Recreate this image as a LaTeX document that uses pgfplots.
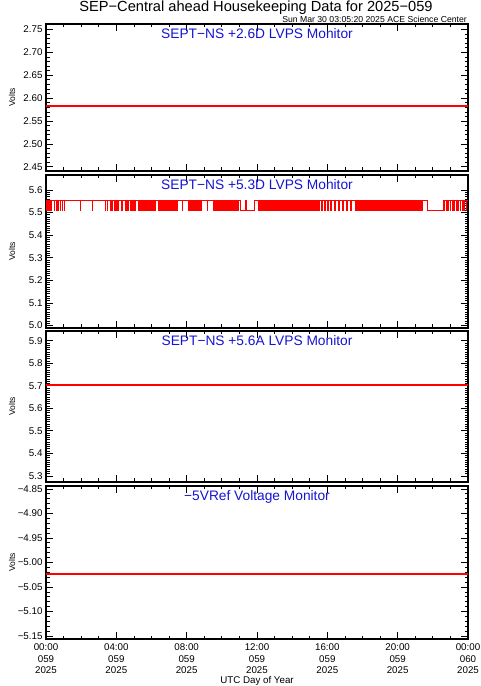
\documentclass[border=0pt]{standalone}
\usepackage{pgfplots}
\pgfplotsset{compat=1.18}
\usepackage{fontspec}
\setmainfont{Liberation Sans}
\definecolor{ttl}{RGB}{20,20,210}
\tikzset{
 ptitle/.style={text=ttl, font=\fontsize{13.8}{14}\selectfont, anchor=north},
}
\pgfplotsset{
 panel/.style={
  scale only axis, width=422bp,
  xmin=0, xmax=24, xtick={0,4,...,24}, minor x tick num=3,
  xticklabels={},
  tick align=inside, tick pos=both,
  axis line style={line width=1.3bp},
  every tick/.style={black, line width=0.8bp},
  major tick length=7bp, minor tick length=3.5bp,
  yticklabel style={font=\fontsize{9.8}{10}\selectfont},
  ylabel={Volts},
  every axis y label/.style={at={(axis description cs:0,0.5)}, xshift=-34bp, rotate=90, anchor=center, font=\fontsize{8.5}{9}\selectfont},
  anchor=north west,
 },
 overlay/.style={scale only axis, width=422bp, xmin=0, xmax=24, hide axis, anchor=north west},
}
\begin{document}
\begin{tikzpicture}
\useasboundingbox (0,0) rectangle (481bp,686bp);
\node[font=\fontsize{14.7}{15}\selectfont, anchor=base, inner sep=0pt] at (256bp,674bp) {SEP−Central ahead Housekeeping Data for 2025−059};
\node[font=\fontsize{8.7}{9}\selectfont, anchor=base east, inner sep=0pt] at (467bp,663.5bp) {Sun Mar 30 03:05:20 2025 ACE Science Center};

% Panel 1
\begin{axis}[panel, at={(46bp,662bp)}, height=147bp,
  ymin=2.441, ymax=2.762,
  ytick={2.45,2.50,2.55,2.60,2.65,2.70,2.75}, minor y tick num=4,
  yticklabels={2.45,2.50,2.55,2.60,2.65,2.70,2.75}]
\addplot[red, line width=1.5bp] coordinates {(0,2.583)(24,2.583)};
\end{axis}

% Panel 2
\begin{axis}[panel, at={(46bp,511bp)}, height=153bp,
  ymin=4.989, ymax=5.666,
  ytick={5.0,5.1,5.2,5.3,5.4,5.5,5.6}, minor y tick num=9,
  yticklabels={5.0,5.1,5.2,5.3,5.4,5.5,5.6}]
\addplot[red, const plot, line width=1bp] coordinates {
(0,5.555)
(0.03,5.51)(0.08,5.555)(0.11,5.51)(0.16,5.555)(0.20,5.51)(0.25,5.555)(0.29,5.51)(0.34,5.555)
(0.46,5.51)(0.50,5.555)(0.57,5.51)(0.61,5.555)(0.68,5.51)(0.72,5.555)(0.80,5.51)(0.84,5.555)(0.91,5.51)(0.95,5.555)(1.03,5.51)(1.07,5.555)
(1.94,5.51)(1.97,5.555)(2.62,5.51)(2.65,5.555)(3.36,5.51)(3.39,5.555)(3.48,5.51)(3.51,5.555)
(3.65,5.51)(3.70,5.555)(3.76,5.51)(3.81,5.555)(3.88,5.51)(3.93,5.555)(3.99,5.51)(4.04,5.555)(4.10,5.51)(4.15,5.555)(4.28,5.51)(4.33,5.555)
(4.50,5.51)(4.55,5.555)(4.62,5.51)(4.67,5.555)(4.79,5.51)(4.84,5.555)(4.90,5.51)(4.95,5.555)(5.02,5.51)(5.07,5.555)(5.24,5.51)(5.29,5.555)
(5.36,5.51)(5.41,5.555)(5.47,5.51)(5.52,5.555)(5.59,5.51)(5.64,5.555)(5.70,5.51)(5.75,5.555)(5.82,5.51)(5.87,5.555)
(5.93,5.51)(5.98,5.555)(6.04,5.51)(6.09,5.555)(6.16,5.51)(6.21,5.555)(6.39,5.51)(6.44,5.555)(6.50,5.51)(6.55,5.555)(6.61,5.51)(6.66,5.555)
(6.73,5.51)(6.78,5.555)(6.84,5.51)(6.89,5.555)(6.96,5.51)(7.01,5.555)(7.07,5.51)(7.12,5.555)(7.18,5.51)(7.23,5.555)(7.30,5.51)(7.35,5.555)(7.41,5.51)(7.46,5.555)
(7.75,5.51)(7.78,5.555)
(8.10,5.51)(8.15,5.555)(8.21,5.51)(8.26,5.555)(8.32,5.51)(8.37,5.555)(8.44,5.51)(8.49,5.555)(8.55,5.51)(8.60,5.555)(8.67,5.51)(8.72,5.555)(8.78,5.51)(8.83,5.555)
(9.18,5.51)(9.21,5.555)
(9.52,5.51)(9.57,5.555)(9.63,5.51)(9.68,5.555)(9.75,5.51)(9.80,5.555)(9.86,5.51)(9.91,5.555)(9.98,5.51)(10.03,5.555)(10.09,5.51)(10.14,5.555)
(10.20,5.51)(10.25,5.555)(10.32,5.51)(10.37,5.555)(10.43,5.51)(10.48,5.555)(10.55,5.51)(10.60,5.555)(10.66,5.51)(10.71,5.555)(10.78,5.51)(10.83,5.555)(10.89,5.51)(10.94,5.555)
(11.06,5.51)(11.37,5.555)(11.43,5.51)(11.83,5.555)
(12.09,5.51)(12.14,5.555)(12.20,5.51)(12.25,5.555)(12.31,5.51)(12.36,5.555)(12.43,5.51)(12.48,5.555)(12.54,5.51)(12.59,5.555)(12.66,5.51)(12.71,5.555)
(12.77,5.51)(12.82,5.555)(12.88,5.51)(12.93,5.555)(13.00,5.51)(13.05,5.555)(13.11,5.51)(13.16,5.555)(13.23,5.51)(13.28,5.555)(13.34,5.51)(13.39,5.555)(13.45,5.51)(13.50,5.555)
(13.57,5.51)(13.62,5.555)(13.68,5.51)(13.73,5.555)(13.80,5.51)(13.85,5.555)(13.91,5.51)(13.96,5.555)(14.02,5.51)(14.07,5.555)(14.14,5.51)(14.19,5.555)
(14.25,5.51)(14.30,5.555)(14.37,5.51)(14.42,5.555)(14.48,5.51)(14.53,5.555)(14.59,5.51)(14.64,5.555)(14.71,5.51)(14.76,5.555)(14.82,5.51)(14.87,5.555)
(14.94,5.51)(14.99,5.555)(15.05,5.51)(15.10,5.555)(15.16,5.51)(15.21,5.555)(15.28,5.51)(15.33,5.555)(15.39,5.51)(15.44,5.555)
(15.51,5.51)(15.55,5.555)(15.68,5.51)(15.72,5.555)(15.85,5.51)(15.89,5.555)(16.02,5.51)(16.06,5.555)(16.19,5.51)(16.23,5.555)(16.42,5.51)(16.46,5.555)
(16.65,5.51)(16.69,5.555)(16.87,5.51)(16.91,5.555)(17.10,5.51)(17.14,5.555)(17.33,5.51)(17.37,5.555)(17.62,5.51)(17.65,5.555)
(17.73,5.51)(17.78,5.555)(17.84,5.51)(17.89,5.555)(17.96,5.51)(18.01,5.555)(18.07,5.51)(18.12,5.555)(18.19,5.51)(18.24,5.555)(18.30,5.51)(18.35,5.555)
(18.41,5.51)(18.46,5.555)(18.53,5.51)(18.58,5.555)(18.64,5.51)(18.69,5.555)(18.76,5.51)(18.81,5.555)(18.87,5.51)(18.92,5.555)(18.98,5.51)(19.03,5.555)
(19.10,5.51)(19.15,5.555)(19.21,5.51)(19.26,5.555)(19.33,5.51)(19.38,5.555)(19.44,5.51)(19.49,5.555)(19.55,5.51)(19.60,5.555)(19.67,5.51)(19.72,5.555)
(19.78,5.51)(19.83,5.555)(19.90,5.51)(19.95,5.555)(20.01,5.51)(20.06,5.555)(20.12,5.51)(20.17,5.555)(20.24,5.51)(20.29,5.555)(20.35,5.51)(20.40,5.555)
(20.47,5.51)(20.52,5.555)(20.58,5.51)(20.63,5.555)(20.69,5.51)(20.74,5.555)(20.81,5.51)(20.86,5.555)(20.92,5.51)(20.97,5.555)(21.04,5.51)(21.09,5.555)
(21.15,5.51)(21.20,5.555)(21.26,5.51)(21.31,5.555)(21.38,5.51)(21.43,5.555)
(21.72,5.51)(22.58,5.555)
(22.63,5.51)(22.68,5.555)(22.75,5.51)(22.80,5.555)(22.86,5.51)(22.91,5.555)(22.98,5.51)(23.03,5.555)(23.09,5.51)(23.14,5.555)(23.20,5.51)(23.25,5.555)
(23.32,5.51)(23.37,5.555)(23.43,5.51)(23.48,5.555)(23.55,5.51)(23.60,5.555)(23.66,5.51)(23.71,5.555)(23.77,5.51)(23.82,5.555)(23.89,5.51)(23.94,5.555)
(24,5.555)};
\end{axis}

% Panel 3
\begin{axis}[panel, at={(46bp,355bp)}, height=151bp,
  ymin=5.273, ymax=5.943,
  ytick={5.3,5.4,5.5,5.6,5.7,5.8,5.9}, minor y tick num=9,
  yticklabels={5.3,5.4,5.5,5.6,5.7,5.8,5.9}]
\addplot[red, line width=1.5bp] coordinates {(0,5.704)(24,5.704)};
\end{axis}

% Panel 4 (frame, ticks, labels)
\begin{axis}[panel, at={(46bp,200bp)}, height=153bp,
  ymin=-5.156, ymax=-4.844,
  ytick={-5.15,-5.10,-5.05,-5.00,-4.95,-4.90,-4.85}, minor y tick num=4,
  yticklabels={−5.15,−5.10,−5.05,−5.00,−4.95,−4.90,−4.85},
  xticklabels={{00:00\\059\\2025},{04:00\\059\\2025},{08:00\\059\\2025},{12:00\\059\\2025},{16:00\\059\\2025},{20:00\\059\\2025},{00:00\\060\\2025}},
  xticklabel style={align=center, font=\fontsize{9.8}{11.5}\selectfont, yshift=-1.5bp},
  xlabel={UTC Day of Year},
  xlabel style={font=\fontsize{9.8}{10}\selectfont, at={(axis description cs:0.5,0)}, anchor=center, yshift=-41.5bp}]
\end{axis}
% Panel 4 data, same geometry
\begin{axis}[overlay, at={(46bp,200bp)}, height=153bp, ymin=-5.156, ymax=-4.844]
\addplot[red, line width=1.7bp] coordinates {(0,-5.023)(24,-5.023)};
\end{axis}

% Panel titles
\node[ptitle] at (257bp,660.5bp) {SEPT−NS +2.6D LVPS Monitor};
\node[ptitle] at (257bp,509.5bp) {SEPT−NS +5.3D LVPS Monitor};
\node[ptitle] at (257bp,353.5bp) {SEPT−NS +5.6A LVPS Monitor};
\node[ptitle] at (257bp,198.5bp) {−5VRef Voltage Monitor};
\end{tikzpicture}
\end{document}
